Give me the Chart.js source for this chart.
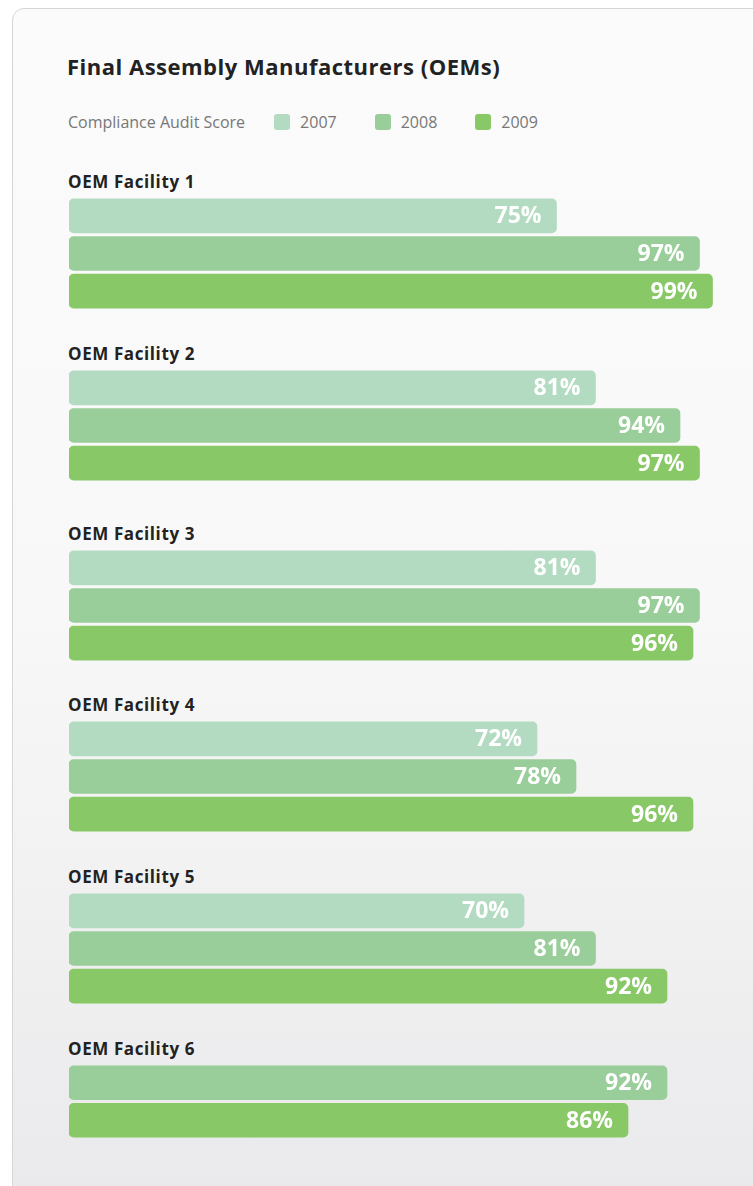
<!DOCTYPE html>
<html>
<head>
<meta charset="utf-8">
<script src="https://cdn.jsdelivr.net/npm/chart.js@4"></script>
<style>
  body { margin: 0; background: #fff; font-family: "Open Sans", sans-serif; }
  .card {
    position: absolute; left: 12px; top: 8px; width: 800px; height: 1250px;
    border: 1px solid #d6d6d6; border-radius: 12px; box-sizing: border-box;
    background: linear-gradient(#fbfbfb 0px, #f8f8f8 600px, #eaeaec 1180px);
  }
  h1 { position: absolute; left: 54px; top: 42px; margin: 0; font-size: 22px; font-weight: 700; color: #222; letter-spacing: 0.5px; }
  .legend { position: absolute; left: 55px; top: 102px; font-size: 16px; color: #777; display: flex; align-items: center; }
  .legend .sw { width: 16px; height: 16px; border-radius: 3px; display: inline-block; margin-right: 10px; }
  .legend .item { display: flex; align-items: center; }
  .block { position: absolute; left: 55px; }
  .block .name { font-size: 17px; font-weight: 700; color: #222; height: 22px; line-height: 22px; letter-spacing: 0.6px; }
  .block canvas { position: absolute; left: 1px; }
</style>
</head>
<body>
<div class="card" id="card">
  <h1>Final Assembly Manufacturers (OEMs)</h1>
  <div class="legend" id="legend"><span style="margin-right:29px">Compliance Audit Score</span></div>
</div>
<script>
const facilities = ['OEM Facility 1', 'OEM Facility 2', 'OEM Facility 3', 'OEM Facility 4', 'OEM Facility 5', 'OEM Facility 6'];
const years = ['2007', '2008', '2009'];
const score2007 = [75, 81, 81, 72, 70, null];
const score2008 = [97, 94, 97, 78, 81, 92];
const score2009 = [99, 97, 96, 96, 92, 86];
const yearColors = ['#b3dbc1', '#99cd99', '#89c866'];

// top of each facility block inside the card (label line)
const blockTop = [162, 334, 514, 685, 857, 1029];

const card = document.getElementById('card');
const legend = document.getElementById('legend');
years.forEach((y, i) => {
  const it = document.createElement('span');
  it.className = 'item';
  it.style.marginRight = i < 2 ? '38px' : '0';
  it.innerHTML = '<span class="sw" style="background:' + yearColors[i] + '"></span>' + y;
  legend.appendChild(it);
});

// valeurs en blanc dans la barre
const valueLabels = {
  id: 'valueLabels',
  afterDatasetsDraw(chart) {
    const ctx = chart.ctx;
    const ds = chart.data.datasets[0];
    chart.getDatasetMeta(0).data.forEach((bar, i) => {
      ctx.save();
      ctx.font = 'bold 23px "Open Sans"';
      ctx.fillStyle = '#fff';
      ctx.textAlign = 'right';
      ctx.textBaseline = 'middle';
      ctx.fillText(ds.data[i] + '%', bar.x - 15, bar.y + 1);
      ctx.restore();
    });
  }
};

const series = [score2007, score2008, score2009];
facilities.forEach((name, f) => {
  const labels = [], values = [], colors = [];
  series.forEach((s, y) => {
    if (s[f] != null) {
      labels.push(years[y]);
      values.push(s[f]);
      colors.push(yearColors[y]);
    }
  });

  const block = document.createElement('div');
  block.className = 'block';
  block.style.top = blockTop[f] + 'px';
  block.innerHTML = '<div class="name">' + name + '</div>';
  const canvas = document.createElement('canvas');
  const h = Math.round(labels.length * 37.6);
  canvas.width = 650;
  canvas.height = h;
  canvas.style.top = '26px';
  block.appendChild(canvas);
  card.appendChild(block);

  new Chart(canvas.getContext('2d'), {
    type: 'bar',
    data: {
      labels: labels,
      datasets: [{
        data: values,
        backgroundColor: colors,
        borderRadius: 5,
        borderSkipped: false,
        barThickness: 34
      }]
    },
    options: {
      indexAxis: 'y',
      responsive: false,
      animation: false,
      layout: { padding: 0 },
      scales: {
        x: { display: false, min: 0, max: 100 },
        y: { display: false }
      },
      plugins: {
        legend: { display: false },
        tooltip: { enabled: false }
      }
    },
    plugins: [valueLabels]
  });
});
</script>
</body>
</html>
